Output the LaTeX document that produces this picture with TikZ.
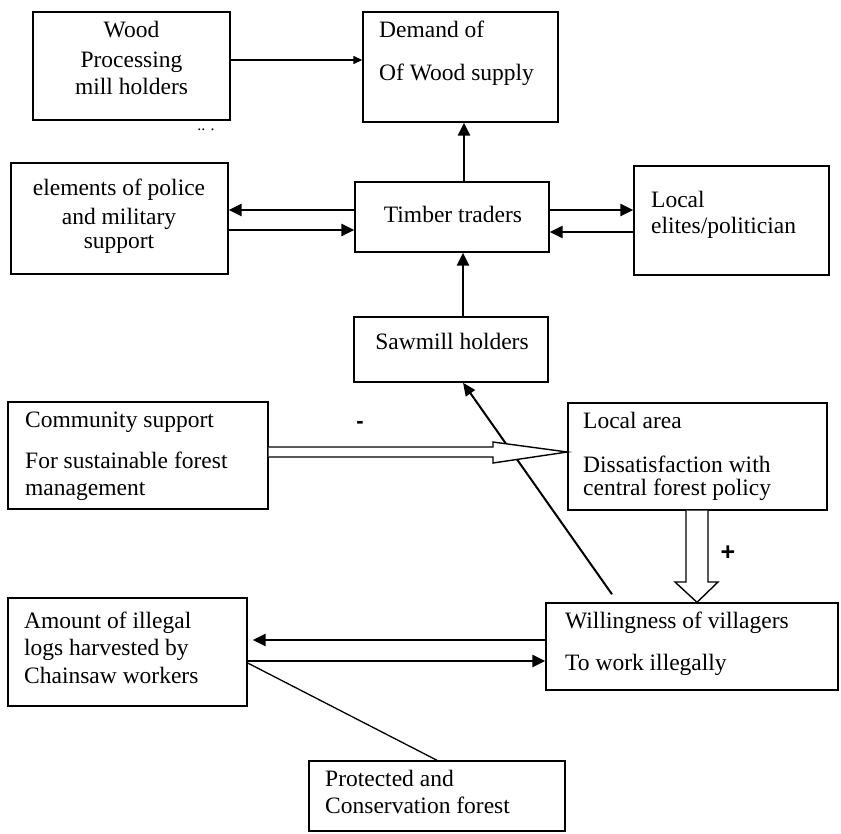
\documentclass[tikz,border=0pt]{standalone}
\usepackage{fontspec}
\setmainfont{Liberation Serif}
\newfontfamily\signfont{Liberation Sans}
\usetikzlibrary{arrows.meta,calc}
\newcommand\fsz{\fontsize{23.5}{27}\selectfont}
\begin{document}
\begin{tikzpicture}[x=1pt,y=-1pt,
  box/.style={draw, line width=1.4pt, inner sep=0pt},
  txt/.style={inner sep=0pt, font=\fsz},
  arr/.style={line width=2.6pt, -{Triangle[length=13pt,width=12pt]}},
  thinarr/.style={line width=1.4pt, -{Triangle[length=9pt,width=8pt]}},
  slantarr/.style={line width=2pt, -{Triangle[length=13pt,width=11pt]}},
  hollow/.style={draw, fill=white, line width=1.4pt, line join=miter},
  plain/.style={line width=1.3pt}]
\useasboundingbox (0,0) rectangle (841,833);

% boxes
\node[box, minimum width=197pt, minimum height=108pt] (wood) at (131.5,66) {};
\node[box, minimum width=195pt, minimum height=110pt] (demand) at (460.5,67) {};
\node[box, minimum width=217pt, minimum height=111pt] (police) at (119.5,218.5) {};
\node[box, minimum width=194pt, minimum height=70pt] (timber) at (452,217) {};
\node[box, minimum width=195pt, minimum height=109pt] (elites) at (731.5,220.5) {};
\node[box, minimum width=194pt, minimum height=65pt] (sawmill) at (451,349.5) {};
\node[box, minimum width=260pt, minimum height=107pt] (comm) at (138,455.5) {};
\node[box, minimum width=259pt, minimum height=107pt] (loc) at (697.5,456.5) {};
\node[box, minimum width=292pt, minimum height=87pt] (will) at (692,646.5) {};
\node[box, minimum width=239pt, minimum height=108pt] (amount) at (127.5,652) {};
\node[box, minimum width=256pt, minimum height=70pt] (prot) at (437,796) {};

% texts
\node[txt, anchor=base] (woodA) at (131.5,37) {Wood};
\node[txt, anchor=base] (woodB) at (131.5,67) {Processing};
\node[txt, anchor=base] (woodC) at (131.5,94) {mill holders};
\node[txt, anchor=base west] (demA) at (379,37) {Demand of};
\node[txt, anchor=base west] (demB) at (379,80) {Of Wood supply};
\node[txt, anchor=base] (polA) at (119,195) {elements of police};
\node[txt, anchor=base] (polB) at (119,224) {and military};
\node[txt, anchor=base] (polC) at (119,248) {support};
\node[txt, anchor=base] (timA) at (453,222) {Timber traders};
\node[txt, anchor=base west] (eliA) at (651,207) {Local};
\node[txt, anchor=base west] (eliB) at (651,233) {elites/politician};
\node[txt, anchor=base] (sawA) at (452,349) {Sawmill holders};
\node[txt, anchor=base west] (comA) at (25,427) {Community support};
\node[txt, anchor=base west] (comB) at (25,468) {For sustainable forest};
\node[txt, anchor=base west] (comC) at (25,495) {management};
\node[txt, anchor=base west] (locA) at (583,428) {Local area};
\node[txt, anchor=base west] (locB) at (583,472) {Dissatisfaction with};
\node[txt, anchor=base west] (locC) at (583,495) {central forest policy};
\node[txt, anchor=base west] (wilA) at (565,628) {Willingness of villagers};
\node[txt, anchor=base west] (wilB) at (565,670) {To work illegally};
\node[txt, anchor=base west] (amoA) at (24,628) {Amount of illegal};
\node[txt, anchor=base west] (amoB) at (24,655) {logs harvested by};
\node[txt, anchor=base west] (amoC) at (24,683) {Chainsaw workers};
\node[txt, anchor=base west] (proA) at (325,786) {Protected and};
\node[txt, anchor=base west] (proB) at (325,813) {Conservation forest};
\node[inner sep=0pt, font=\fontsize{16}{16}\selectfont] (specks) at (206,130) {..\,\,.};

% signs
\node[inner sep=0pt, font=\fontsize{22}{22}\selectfont\signfont\bfseries] (minus) at (360,425) {-};
\node[inner sep=0pt, font=\fontsize{25}{25}\selectfont\signfont\bfseries] (plus) at (728,553) {+};

% connectors
\draw[thinarr] (wood.east |- 0,60) -- (demand.west |- 0,60);
\draw[arr] (timber.north -| 464,0) -- (demand.south -| 464,0);
\draw[arr] (timber.west |- 0,210) -- (police.east |- 0,210);
\draw[arr] (police.east |- 0,230) -- (timber.west |- 0,230);
\draw[arr] (timber.east |- 0,210) -- (elites.west |- 0,210);
\draw[arr] (elites.west |- 0,232) -- (timber.east |- 0,232);
\draw[arr] (sawmill.north -| 463,0) -- (timber.south -| 463,0);
\draw[slantarr] ($(will.north -| 612,0)+(0,-8)$) -- (sawmill.south -| 463,0);
\draw[arr] (will.west |- 0,640) -- ($(amount.east |- 0,640)+(5,0)$);
\draw[arr] (amount.east |- 0,661) -- (will.west |- 0,661);
\draw[plain] (amount.east |- 0,663) -- (prot.north -| 437,0);

% hollow arrows
\draw[hollow] (comm.east |- 0,447) -- (493,447) -- (493,442) -- (loc.west |- 0,452)
  -- (493,463) -- (493,457) -- (comm.east |- 0,457);
\draw[hollow] (loc.south -| 686,0) -- (686,582) -- (675,582) -- (will.north -| 697,0)
  -- (718,582) -- (708,582) -- (loc.south -| 708,0);
\end{tikzpicture}
\end{document}
